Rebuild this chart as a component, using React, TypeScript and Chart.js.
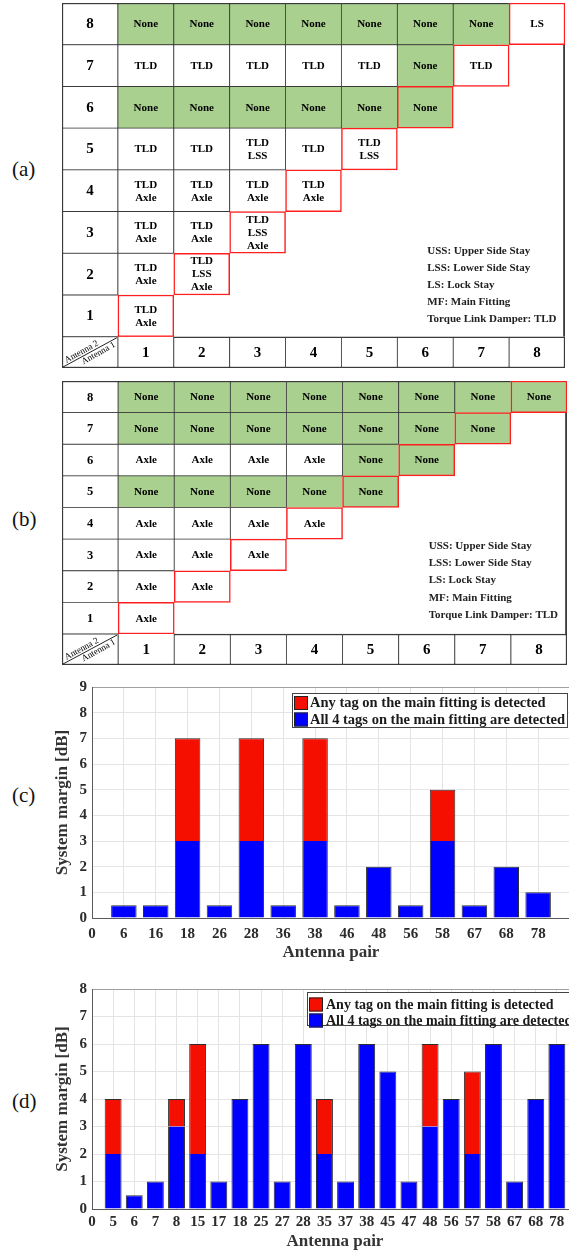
import React, { useEffect, useRef } from 'react';
import { Chart, registerables } from 'chart.js';

Chart.register(...registerables);

const SERIF = "'Liberation Serif', 'Times New Roman', Times, serif";

// ---------------- Tables (a) and (b) ----------------
const columnLabels = ['1', '2', '3', '4', '5', '6', '7', '8'];
const rowLabels = ['8', '7', '6', '5', '4', '3', '2', '1'];

const tableA: string[][] = [
  ['None', 'None', 'None', 'None', 'None', 'None', 'None', 'LS'],
  ['TLD', 'TLD', 'TLD', 'TLD', 'TLD', 'None', 'TLD'],
  ['None', 'None', 'None', 'None', 'None', 'None'],
  ['TLD', 'TLD', 'TLD\nLSS', 'TLD', 'TLD\nLSS'],
  ['TLD\nAxle', 'TLD\nAxle', 'TLD\nAxle', 'TLD\nAxle'],
  ['TLD\nAxle', 'TLD\nAxle', 'TLD\nLSS\nAxle'],
  ['TLD\nAxle', 'TLD\nLSS\nAxle'],
  ['TLD\nAxle'],
];

const tableB: string[][] = [
  ['None', 'None', 'None', 'None', 'None', 'None', 'None', 'None'],
  ['None', 'None', 'None', 'None', 'None', 'None', 'None'],
  ['Axle', 'Axle', 'Axle', 'Axle', 'None', 'None'],
  ['None', 'None', 'None', 'None', 'None'],
  ['Axle', 'Axle', 'Axle', 'Axle'],
  ['Axle', 'Axle', 'Axle'],
  ['Axle', 'Axle'],
  ['Axle'],
];

const abbreviations = [
  'USS: Upper Side Stay',
  'LSS: Lower Side Stay',
  'LS: Lock Stay',
  'MF: Main Fitting',
  'Torque Link Damper: TLD',
];
const cornerTexts = ['Antenna 2', 'Antenna 1'];

// ---------------- Chart (c) ----------------
const pairsC = ['6', '16', '18', '26', '28', '36', '38', '46', '48', '56', '58', '67', '68', '78'];
const allTagsC = [0.5, 0.5, 3, 0.5, 3, 0.5, 3, 0.5, 2, 0.5, 3, 0.5, 2, 1];
const anyTagC = [0.5, 0.5, 7, 0.5, 7, 0.5, 7, 0.5, 2, 0.5, 5, 0.5, 2, 1];

// ---------------- Chart (d) ----------------
const pairsD = ['5', '6', '7', '8', '15', '17', '18', '25', '27', '28', '35', '37', '38', '45', '47', '48', '56', '57', '58', '67', '68', '78'];
const allTagsD = [2, 0.5, 1, 3, 2, 1, 4, 6, 1, 6, 2, 1, 6, 5, 1, 3, 4, 2, 6, 1, 4, 6];
const anyTagD = [4, 0.5, 1, 4, 6, 1, 4, 6, 1, 6, 4, 1, 6, 5, 1, 6, 4, 5, 6, 1, 4, 6];

const seriesLabels = [
  'Any tag on the main fitting is detected',
  'All 4 tags on the main fitting are detected',
];

const GREEN = '#a9d08e';
const RED_LINE = '#ff1f1f';
const DARK_LINE = '#3a3a3a';
const BAR_RED = '#f50f00';
const BAR_BLUE = '#0000ff';
const BAR_EDGE = 'rgba(25,25,25,0.9)';

type Cell = { col: number; row: number; text: string; kind: 'data' | 'rowLabel' | 'colLabel' | 'corner' | 'frame' };

function buildCells(rows: string[][]): Cell[] {
  const cells: Cell[] = [];
  rows.forEach((vals, ri) => {
    const row = Number(rowLabels[ri]);
    cells.push({ col: 0, row, text: rowLabels[ri], kind: 'rowLabel' });
    vals.forEach((t, ci) => cells.push({ col: ci + 1, row, text: t, kind: 'data' }));
  });
  columnLabels.forEach((t, ci) => cells.push({ col: ci + 1, row: 0, text: t, kind: 'colLabel' }));
  cells.push({ col: 0, row: 0, text: '', kind: 'corner' });
  cells.push({ col: 8, row: -1, text: '', kind: 'frame' });
  return cells;
}

type TableProps = {
  rows: string[][];
  labelRowHeight: number;
  rowFont: number;
  colFont: number;
  notesBottom: number;
  notesStep: number;
  left: number;
  top: number;
  width: number;
  height: number;
};

function TableChart(p: TableProps) {
  const ref = useRef<HTMLCanvasElement | null>(null);
  useEffect(() => {
    const canvas = ref.current;
    if (!canvas) return;
    const cells = buildCells(p.rows);
    const colKeys = ['hdr', ...columnLabels];
    const exists = (c: number, r: number) =>
      (r >= 1 && r <= 8 && c >= 0 && c <= r) || (r === 0 && c >= 0 && c <= 8);
    const isDiag = (c: number, r: number) => r >= 1 && c === r;
    const OUTER = 1.5;
    const INNER = 0.8;
    const RED_W = 1.5;
    const edge = (cell: Cell, dc: number, dr: number) => {
      const c2 = cell.col + dc;
      const r2 = cell.row + dr;
      if (!exists(c2, r2)) return OUTER;
      if (isDiag(c2, r2)) return 0;
      return INNER;
    };
    const yRange = (cell: Cell): [number, number] =>
      cell.kind === 'frame' ? [0, 7] : cell.row === 0 ? [-p.labelRowHeight, 0] : [cell.row - 1, cell.row];

    const textPlugin = {
      id: 'tableText',
      afterDatasetsDraw(chart: any) {
        const ctx = chart.ctx as CanvasRenderingContext2D;
        const meta = chart.getDatasetMeta(0);
        ctx.save();
        ctx.fillStyle = '#000';
        ctx.textAlign = 'center';
        ctx.textBaseline = 'middle';
        meta.data.forEach((el: any, i: number) => {
          const cell = cells[i];
          if (!cell || cell.kind === 'frame') return;
          const { x, y, base, width } = el.getProps(['x', 'y', 'base', 'width'], true);
          const top = Math.min(y, base);
          const bottom = Math.max(y, base);
          const cy = (top + bottom) / 2;
          if (cell.kind === 'corner') {
            const left = x - width / 2;
            const right = x + width / 2;
            ctx.strokeStyle = '#222';
            ctx.lineWidth = 1;
            ctx.beginPath();
            ctx.moveTo(left + 1, bottom - 1);
            ctx.lineTo(right - 1, top + 1);
            ctx.stroke();
            const ang = Math.atan2(bottom - top, right - left);
            const cos = Math.cos(ang);
            const sin = Math.sin(ang);
            ctx.font = `9px ${SERIF}`;
            const place = [[-7, 4.5], [7, -5]];
            cornerTexts.forEach((t, k) => {
              const [a, n] = place[k];
              const px = x + a * cos - n * sin;
              const py = cy - a * sin - n * cos;
              ctx.save();
              ctx.translate(px, py);
              ctx.rotate(-ang);
              ctx.fillText(t, 0, 0);
              ctx.restore();
            });
            return;
          }
          if (!cell.text) return;
          const size = cell.kind === 'rowLabel' ? p.rowFont : cell.kind === 'colLabel' ? p.colFont : 11;
          ctx.font = `bold ${size}px ${SERIF}`;
          const lines = cell.text.split('\n');
          const lh = 13;
          lines.forEach((ln, k) => ctx.fillText(ln, x, cy + (k - (lines.length - 1) / 2) * lh + 0.5));
        });
        const xs = chart.scales.x;
        const ys = chart.scales.y;
        const nx = xs.getPixelForValue(6) + 2;
        const base0 = ys.getPixelForValue(0);
        ctx.textAlign = 'left';
        ctx.fillStyle = '#222';
        ctx.font = `bold 11px ${SERIF}`;
        abbreviations.forEach((t, k) => {
          const fromBottom = abbreviations.length - 1 - k;
          ctx.fillText(t, nx, base0 - p.notesBottom - fromBottom * p.notesStep);
        });
        ctx.restore();
      },
    };

    const chart = new Chart(canvas, {
      type: 'bar',
      data: {
        labels: colKeys,
        datasets: [
          {
            data: cells.map((c) => ({ x: colKeys[c.col], y: yRange(c) })) as any,
            backgroundColor: (ctx: any) => {
              const c = cells[ctx.dataIndex];
              if (!c) return '#fff';
              if (c.kind === 'frame') return 'rgba(0,0,0,0)';
              return c.text === 'None' ? GREEN : '#ffffff';
            },
            borderColor: (ctx: any) => {
              const c = cells[ctx.dataIndex];
              return c && c.kind === 'data' && isDiag(c.col, c.row) ? RED_LINE : DARK_LINE;
            },
            borderWidth: (ctx: any) => {
              const c = cells[ctx.dataIndex];
              if (!c) return 0;
              if (c.kind === 'frame') return { top: 0, left: 0, bottom: 0, right: OUTER };
              if (c.kind === 'data' && isDiag(c.col, c.row)) return RED_W;
              return { top: edge(c, 0, 1), bottom: edge(c, 0, -1), left: edge(c, -1, 0), right: edge(c, 1, 0) };
            },
            borderSkipped: false,
            categoryPercentage: 1,
            barPercentage: 1,
          } as any,
        ],
      },
      options: {
        responsive: false,
        animation: false,
        events: [],
        layout: { padding: 1 },
        plugins: { legend: { display: false }, tooltip: { enabled: false } },
        scales: {
          x: { type: 'category', display: false, offset: true },
          y: { type: 'linear', min: -p.labelRowHeight, max: 8, display: false },
        },
      },
      plugins: [textPlugin as any],
    });
    return () => chart.destroy();
  }, []);
  return (
    <canvas
      ref={ref}
      width={p.width}
      height={p.height}
      style={{ position: 'absolute', left: p.left, top: p.top, width: p.width, height: p.height }}
    />
  );
}

type BarProps = {
  pairs: string[];
  allTags: number[];
  anyTag: number[];
  yMax: number;
  left: number;
  top: number;
  width: number;
  height: number;
  padTop: number;
  padRight: number;
  yAxisWidth: number;
  xAxisHeight: number;
  xTickPad: number;
  titleBottomPad: number;
  yTitlePad: number;
  legendLeft: number;
  legendTop: number;
  legendWidth: number;
  legendHeight: number;
  legendFont: number;
  legendFirstRow: number;
  legendRowGap: number;
  swatch: number;
  textGap: number;
};

function BarChart(p: BarProps) {
  const ref = useRef<HTMLCanvasElement | null>(null);
  useEffect(() => {
    const canvas = ref.current;
    if (!canvas) return;
    const xs = p.pairs.map((_, i) => i + 1);
    const xMax = p.pairs.length + 1;
    const tickFont = { family: SERIF, size: 15, weight: 'bold' as const };
    const titleFont = { family: SERIF, size: 17, weight: 'bold' as const };

    const legendPlugin = {
      id: 'boxLegend',
      afterDraw(chart: any) {
        const ctx = chart.ctx as CanvasRenderingContext2D;
        const ca = chart.chartArea;
        const L = ca.left + p.legendLeft;
        const T = ca.top + p.legendTop;
        ctx.save();
        ctx.fillStyle = '#fff';
        ctx.fillRect(L, T, p.legendWidth, p.legendHeight);
        ctx.strokeStyle = '#444';
        ctx.lineWidth = 1;
        ctx.strokeRect(L + 0.5, T + 0.5, p.legendWidth - 1, p.legendHeight - 1);
        const order = [1, 0];
        ctx.font = `bold ${p.legendFont}px ${SERIF}`;
        ctx.textAlign = 'left';
        ctx.textBaseline = 'middle';
        order.forEach((di, k) => {
          const ds = chart.data.datasets[di];
          const cy = T + p.legendFirstRow + k * p.legendRowGap;
          const sx = L + 2;
          const sy = cy - p.swatch / 2;
          ctx.fillStyle = ds.backgroundColor;
          ctx.fillRect(sx, sy, p.swatch, p.swatch);
          ctx.strokeStyle = '#222';
          ctx.strokeRect(sx + 0.5, sy + 0.5, p.swatch - 1, p.swatch - 1);
          ctx.fillStyle = '#1a1a1a';
          ctx.fillText(ds.label, sx + p.swatch + p.textGap, cy + 0.5);
        });
        ctx.restore();
      },
    };

    const chart = new Chart(canvas, {
      type: 'bar',
      data: {
        datasets: [
          {
            label: seriesLabels[1],
            data: xs.map((x, i) => ({ x, y: p.allTags[i] })) as any,
            backgroundColor: BAR_BLUE,
            borderColor: BAR_EDGE,
            borderWidth: (ctx: any) => ({
              top: p.anyTag[ctx.dataIndex] > p.allTags[ctx.dataIndex] ? 0 : 1,
              left: 1,
              right: 1,
              bottom: 0,
            }),
            borderSkipped: false,
            categoryPercentage: 0.8,
            barPercentage: 1,
          } as any,
          {
            label: seriesLabels[0],
            data: xs.map((x, i) => ({
              x,
              y: p.anyTag[i] > p.allTags[i] ? p.anyTag[i] - p.allTags[i] : null,
            })) as any,
            backgroundColor: BAR_RED,
            borderColor: BAR_EDGE,
            borderWidth: { top: 1, left: 1, right: 1, bottom: 0 },
            borderSkipped: false,
            categoryPercentage: 0.8,
            barPercentage: 1,
          } as any,
        ],
      },
      options: {
        responsive: false,
        animation: false,
        events: [],
        layout: { padding: { top: p.padTop, right: p.padRight, left: 0, bottom: 0 } },
        plugins: { legend: { display: false }, tooltip: { enabled: false } },
        scales: {
          x: {
            type: 'linear',
            stacked: true,
            offset: false,
            min: 0,
            max: xMax,
            ticks: {
              stepSize: 1,
              autoSkip: false,
              maxRotation: 0,
              minRotation: 0,
              padding: p.xTickPad,
              color: '#2b2b2b',
              font: tickFont,
              callback: (v: any) => (v === 0 ? '0' : p.pairs[Number(v) - 1] ?? ''),
            },
            grid: { color: '#e4e4e4', drawTicks: false, offset: false },
            border: { display: true, color: '#5a5a5a' },
            title: {
              display: true,
              text: 'Antenna pair',
              color: '#333',
              font: titleFont,
              padding: { top: 0, bottom: p.titleBottomPad },
            },
            afterFit: (s: any) => {
              s.height = p.xAxisHeight;
            },
          } as any,
          y: {
            type: 'linear',
            stacked: true,
            min: 0,
            max: p.yMax,
            ticks: { stepSize: 1, padding: 5, color: '#2b2b2b', font: tickFont },
            grid: {
              color: (ctx: any) => (ctx.tick && ctx.tick.value === p.yMax ? '#a0a0a0' : '#e4e4e4'),
              drawTicks: false,
            },
            border: { display: true, color: '#5a5a5a' },
            title: {
              display: true,
              text: 'System margin [dB]',
              color: '#333',
              font: titleFont,
              padding: { top: p.yTitlePad, bottom: 0 },
            },
            afterFit: (s: any) => {
              s.width = p.yAxisWidth;
            },
          } as any,
        },
      },
      plugins: [legendPlugin as any],
    });
    return () => chart.destroy();
  }, []);
  return (
    <canvas
      ref={ref}
      width={p.width}
      height={p.height}
      style={{ position: 'absolute', left: p.left, top: p.top, width: p.width, height: p.height }}
    />
  );
}

function PanelLabel({ text, centerY }: { text: string; centerY: number }) {
  return (
    <div
      style={{
        position: 'absolute',
        left: 12,
        top: centerY - 13,
        height: 26,
        lineHeight: '26px',
        fontFamily: SERIF,
        fontSize: 21,
        color: '#111',
      }}
    >
      {text}
    </div>
  );
}

export default function App() {
  useEffect(() => {
    document.documentElement.style.overflow = 'hidden';
    document.body.style.overflow = 'hidden';
  }, []);
  return (
    <div
      style={{
        position: 'absolute',
        left: 0,
        top: 0,
        width: 569,
        height: 1252,
        overflow: 'hidden',
        background: '#fff',
      }}
    >
      <PanelLabel text="(a)" centerY={169} />
      <TableChart
        rows={tableA}
        labelRowHeight={0.75}
        rowFont={15}
        colFont={15}
        notesBottom={18}
        notesStep={17}
        left={61}
        top={2}
        width={505}
        height={367}
      />
      <PanelLabel text="(b)" centerY={519} />
      <TableChart
        rows={tableB}
        labelRowHeight={0.98}
        rowFont={12.5}
        colFont={15}
        notesBottom={19}
        notesStep={17.2}
        left={61}
        top={380}
        width={507}
        height={286}
      />
      <PanelLabel text="(c)" centerY={795} />
      <BarChart
        pairs={pairsC}
        allTags={allTagsC}
        anyTag={anyTagC}
        yMax={9}
        left={40}
        top={672}
        width={540}
        height={300}
        padTop={15}
        padRight={10}
        yAxisWidth={52}
        xAxisHeight={54}
        xTickPad={7}
        titleBottomPad={9}
        yTitlePad={12}
        legendLeft={200}
        legendTop={6}
        legendWidth={276}
        legendHeight={35}
        legendFont={14.5}
        legendFirstRow={10}
        legendRowGap={16.5}
        swatch={14}
        textGap={2}
      />
      <PanelLabel text="(d)" centerY={1101} />
      <BarChart
        pairs={pairsD}
        allTags={allTagsD}
        anyTag={anyTagD}
        yMax={8}
        left={40}
        top={975}
        width={550}
        height={290}
        padTop={13}
        padRight={12}
        yAxisWidth={52}
        xAxisHeight={56}
        xTickPad={4}
        titleBottomPad={13}
        yTitlePad={12}
        legendLeft={215}
        legendTop={3}
        legendWidth={290}
        legendHeight={34}
        legendFont={14}
        legendFirstRow={12.5}
        legendRowGap={16}
        swatch={14}
        textGap={3}
      />
    </div>
  );
}
